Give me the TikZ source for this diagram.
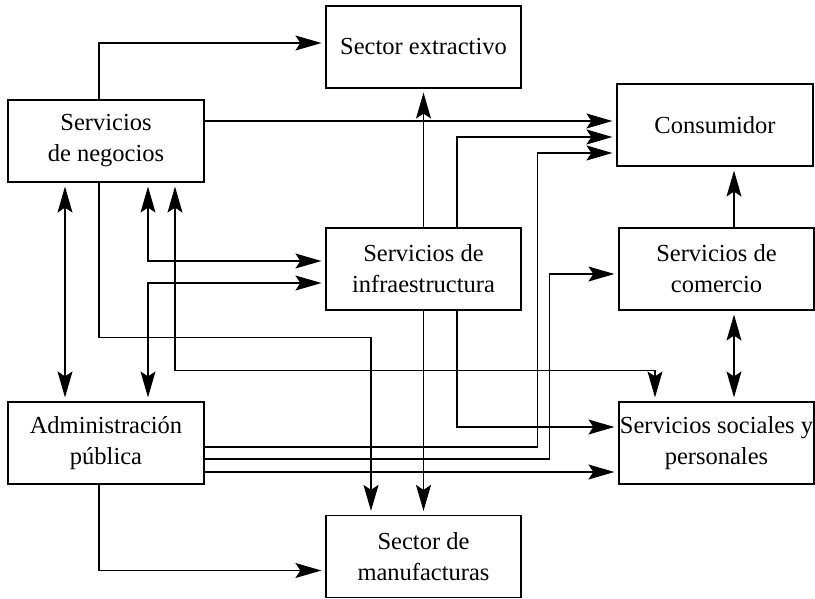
\documentclass[tikz,border=0pt]{standalone}
\usepackage{fontspec}
\setmainfont{Liberation Serif}
\usetikzlibrary{arrows.meta}
\begin{document}
\begin{tikzpicture}[x=1pt,y=-1pt,
  box/.style={draw, line width=1.2pt, inner sep=0pt, minimum width=195pt, minimum height=82pt, align=center, font=\fontsize{24.5}{31}\selectfont},
  conn/.style={line width=1.2pt},
  arr/.style={conn, -{Stealth[length=26pt,width=15pt,inset=5pt]}, shorten >=4pt},
  darr/.style={conn, {Stealth[length=26pt,width=15pt,inset=5pt]}-{Stealth[length=26pt,width=15pt,inset=5pt]}, shorten >=4pt, shorten <=4pt}]
\useasboundingbox (0,0) rectangle (815,598);
\node[box] (ext) at (423.5,47) {Sector extractivo};
\node[box,minimum width=196pt] (sn) at (106,141) {Servicios\\de negocios};
\node[box,minimum width=196pt] (con) at (715,125) {Consumidor};
\node[box] (inf) at (423.5,269) {Servicios de\\infraestructura};
\node[box] (com) at (716.5,269) {Servicios de\\comercio};
\node[box,minimum width=196pt] (adm) at (106,443) {Administración\\pública};
\node[box] (soc) at (716.5,443) {Servicios sociales y\\personales};
\node[box] (man) at (423.5,556.5) {Sector de\\manufacturas};

% Servicios de negocios
\draw[arr] ([xshift=-7pt]sn.north) |- ([yshift=4pt]ext.west);
\draw[arr] ([yshift=20pt]sn.east) -- ([yshift=4pt]con.west);
\draw[arr] ([xshift=-7pt]sn.south) -- ++(0,155) -| ([xshift=-52.5pt]man.north);
\draw[darr] ([xshift=-41pt]sn.south) -- ([xshift=-41pt]adm.north);
\draw[darr] ([xshift=42pt]sn.south) |- ([yshift=8pt]inf.west);
\draw[darr] ([xshift=69pt]sn.south) -- ++(0,188) -| ([xshift=-61.5pt]soc.north);

% Infraestructura
\draw[arr] (inf.north) -- (ext.south);
\draw[arr] ([xshift=33.5pt]inf.north) |- ([yshift=-12pt]con.west);
\draw[arr] ([xshift=33.5pt]inf.south) |- ([yshift=16pt]soc.west);
\draw[arr] (inf.south) -- (man.north);
\draw[darr] ([yshift=-14pt]inf.west) -| ([xshift=42pt]adm.north);

% Administración pública
\draw[arr] ([yshift=-4pt]adm.east) -| ([xshift=-79pt,yshift=-28pt]con.west) -- ([yshift=-28pt]con.west);
\draw[arr] ([yshift=-16pt]adm.east) -| ([xshift=-69pt,yshift=-5pt]com.west) -- ([yshift=-5pt]com.west);
\draw[arr] ([yshift=-29pt]adm.east) -- ([yshift=-29pt]soc.west);
\draw[arr] ([xshift=-7pt]adm.south) |- ([yshift=-14pt]man.west);

% Comercio
\draw[arr] ([xshift=17.5pt]com.north) -- ([xshift=19pt]con.south);
\draw[darr] ([xshift=17.5pt]com.south) -- ([xshift=17.5pt]soc.north);
\end{tikzpicture}
\end{document}
